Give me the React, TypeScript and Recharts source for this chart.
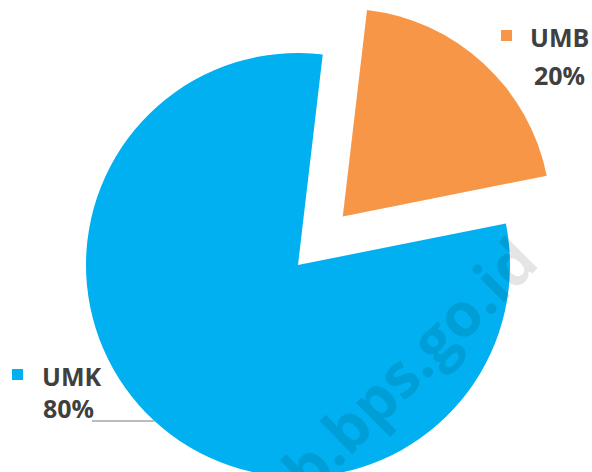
import { PieChart, Pie, Cell, Sector } from 'recharts'

const categories = ['UMB', 'UMK']
const shares = [20, 80]
const colors = ['#F79646', '#00B0F0']
const exploded = ['UMB']
const watermark = 'kab.bps.go.id'

const data = categories.map((name, i) => ({ name, value: shares[i] }))

const RADIAN = Math.PI / 180
const textColor = '#404040'

function SliceShape(props: any) {
  const { cx, cy, midAngle, outerRadius, payload } = props
  const name = payload?.name ?? props.name
  if (exploded.includes(name)) {
    const off = 66
    const dx = off * Math.cos(-midAngle * RADIAN)
    const dy = off * Math.sin(-midAngle * RADIAN)
    return <Sector {...props} cx={cx + dx} cy={cy + dy} outerRadius={outerRadius - 4} />
  }
  return <Sector {...props} />
}

function renderLabel(props: any) {
  const { cx, cy, outerRadius, index, name, percent } = props
  const pct = `${Math.round(percent * 100)}%`
  const color = colors[index]
  if (index === 0) {
    const x = cx + 232
    const y = cy - 218
    return (
      <g>
        <rect x={x - 29} y={y - 17} width={11} height={11} fill={color} />
        <text x={x} y={y} fill={textColor} fontSize={25} fontWeight={700} fontFamily="Open Sans">
          {name}
        </text>
        <text x={x + 4} y={y + 38} fill={textColor} fontSize={25} fontWeight={700} fontFamily="Open Sans">
          {pct}
        </text>
      </g>
    )
  }
  const x = cx - 256
  const y = cy + 121
  const lineY = y + 35
  const edgeX = cx - Math.sqrt(outerRadius * outerRadius - (lineY - cy) * (lineY - cy))
  return (
    <g>
      <rect x={x - 30} y={y - 17} width={11} height={11} fill={color} />
      <text x={x} y={y} fill={textColor} fontSize={25} fontWeight={700} fontFamily="Open Sans">
        {name}
      </text>
      <text x={x + 1} y={y + 32} fill={textColor} fontSize={25} fontWeight={700} fontFamily="Open Sans">
        {pct}
      </text>
      <line x1={x + 50} y1={lineY} x2={edgeX} y2={lineY} stroke="#A6A6A6" strokeWidth={1.5} />
    </g>
  )
}

export default function App() {
  return (
    <div style={{ position: 'fixed', left: 0, top: 0, width: 592, height: 472, background: '#fff' }}>
      <PieChart width={592} height={472} margin={{ top: 0, right: 0, bottom: 0, left: 0 }}>
        <Pie
          data={data}
          dataKey="value"
          nameKey="name"
          cx={298}
          cy={265}
          outerRadius={212}
          startAngle={83.3}
          endAngle={-276.7}
          stroke="none"
          label={renderLabel}
          labelLine={false}
          shape={SliceShape}
          isAnimationActive={false}
        >
          {data.map((d, i) => (
            <Cell key={d.name} fill={colors[i]} />
          ))}
        </Pie>
      </PieChart>
      <svg
        width={592}
        height={472}
        style={{ position: 'absolute', left: 0, top: 0, pointerEvents: 'none' }}
      >
        <text
          x={541}
          y={265}
          transform="rotate(-45 541 265)"
          textAnchor="end"
          fontSize={61}
          fontWeight={700}
          fontFamily="Open Sans"
          fill="#000"
          fillOpacity={0.1}
        >
          {watermark}
        </text>
      </svg>
    </div>
  )
}
